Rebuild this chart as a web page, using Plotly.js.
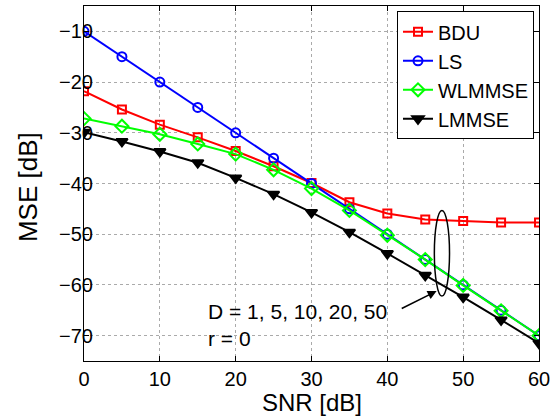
<!DOCTYPE html>
<html>
<head>
<meta charset="utf-8">
<script src="https://cdn.plot.ly/plotly-3.0.1.min.js"></script>
<style>html,body{margin:0;padding:0;background:#fff;}#chart{width:551px;height:416px;}</style>
</head>
<body>
<div id="chart"></div>
<script>
const snr = [0, 5, 10, 15, 20, 25, 30, 35, 40, 45, 50, 55, 60];
const bdu = [-21.8, -25.4, -28.4, -30.9, -33.6, -36.6, -39.9, -43.7, -45.9, -47.1, -47.4, -47.7, -47.7];
const ls = [-10, -15, -20, -25, -30, -35, -40, -45, -50, -55, -60, -65, -70];
const wlmmse = [-27.2, -28.7, -30.3, -32.2, -34.2, -37.3, -41.0, -45.3, -50.2, -55.0, -60.1, -65.1, -70.0];
const lmmse = [-29.9, -31.7, -33.7, -35.9, -38.9, -42.1, -45.7, -49.6, -53.8, -58.1, -62.4, -66.9, -71.5];
const xTicks = [0, 10, 20, 30, 40, 50, 60];
const yTicks = [-70, -60, -50, -40, -30, -20, -10];

const font = '"Liberation Sans", Arial, Helvetica, sans-serif';

function tr(name, y, color, symbol, size) {
  return {
    x: snr, y: y, name: name, type: 'scatter', mode: 'lines+markers',
    line: {color: color, width: 2},
    marker: {color: color, symbol: symbol, size: size, line: {color: color, width: 2}}
  };
}

const data = [
  tr('BDU', bdu, '#ff0000', 'square-open', 8),
  tr('LS', ls, '#0000ff', 'circle-open', 9),
  tr('WLMMSE', wlmmse, '#00ff00', 'diamond-open', 10),
  tr('LMMSE', lmmse, '#000000', 'triangle-down', 10)
];

const axisCommon = {
  showline: true, linecolor: '#000', linewidth: 1, mirror: 'ticks',
  ticks: 'inside', ticklen: 5, tickcolor: '#000', tickwidth: 1,
  showgrid: true, gridcolor: '#aaa', griddash: 'dot', gridwidth: 1,
  zeroline: false, tickfont: {family: font, size: 20, color: '#000'}
};

const layout = {
  width: 551, height: 416,
  margin: {l: 84, r: 12, t: 6, b: 55},
  paper_bgcolor: '#fff', plot_bgcolor: '#fff',
  font: {family: font, color: '#000'},
  xaxis: Object.assign({}, axisCommon, {
    range: [0, 60], tickvals: xTicks
  }),
  yaxis: Object.assign({}, axisCommon, {
    range: [-75, -5], tickvals: yTicks, ticklabelstandoff: -14
  }),
  legend: {
    x: 0.989, y: 0.985, xanchor: 'right', yanchor: 'top',
    bgcolor: '#fff', bordercolor: '#000', borderwidth: 1,
    font: {family: font, size: 20, color: '#000'},
    tracegroupgap: 0, itemwidth: 30
  },
  shapes: [{
    type: 'circle', xref: 'x', yref: 'y',
    x0: 46.2, x1: 48.2, y0: -62.2, y1: -45.3,
    line: {color: '#000', width: 1.5}
  }],
  annotations: [
    {x: 0.5, y: -0.116, xref: 'paper', yref: 'paper', text: 'SNR [dB]', showarrow: false,
     xanchor: 'center', yanchor: 'middle', font: {family: font, size: 24, color: '#000'}},
    {x: -0.123, y: 0.49, xref: 'paper', yref: 'paper', text: 'MSE [dB]', showarrow: false, textangle: -90,
     xanchor: 'center', yanchor: 'middle', font: {family: font, size: 26, color: '#000'}},
    {x: 16.1, y: -65.3, xref: 'x', yref: 'y', text: 'D = 1, 5, 10, 20, 50', showarrow: false,
     xanchor: 'left', yanchor: 'middle', font: {family: font, size: 21, color: '#000'}},
    {x: 16.1, y: -70.5, xref: 'x', yref: 'y', text: 'r = 0', showarrow: false,
     xanchor: 'left', yanchor: 'middle', font: {family: font, size: 21, color: '#000'}},
    {x: 46.5, y: -61.2, xref: 'x', yref: 'y', ax: 41.7, ay: -64.8, axref: 'x', ayref: 'y',
     text: '', showarrow: true, arrowhead: 2, arrowsize: 1.2, arrowwidth: 1.5, arrowcolor: '#000'}
  ],
  showlegend: true
};

Plotly.newPlot('chart', data, layout, {displayModeBar: false, staticPlot: true});
</script>
</body>
</html>
